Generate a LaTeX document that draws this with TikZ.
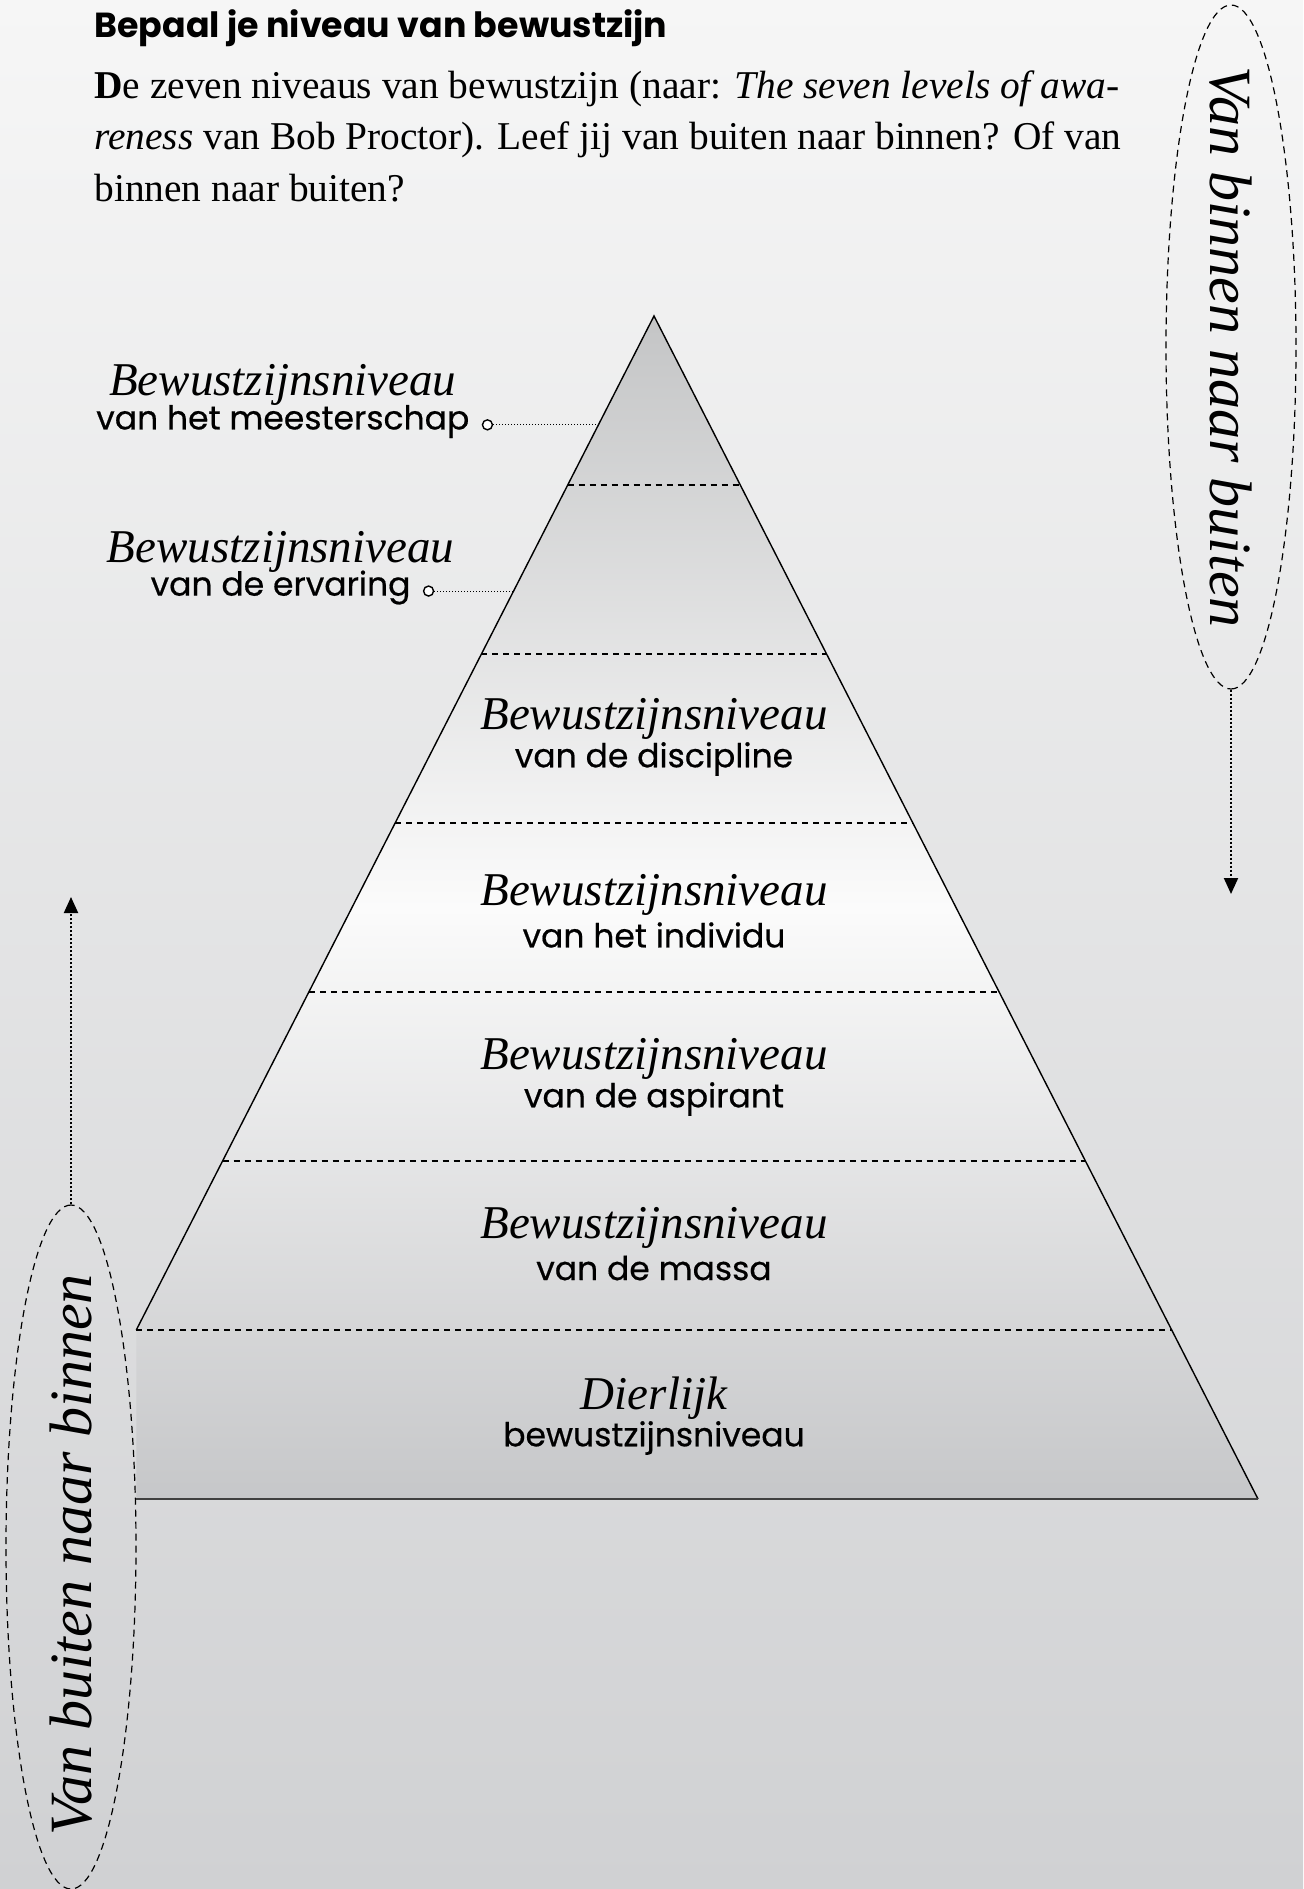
\documentclass[tikz,border=0pt]{standalone}
\usepackage{fontspec}
\setmainfont{Liberation Serif}
\newfontfamily\labelsans{Poppins}[FakeBold=0.5]
\newfontfamily\titlesans{Poppins}
\usetikzlibrary{positioning,calc,shapes.geometric,arrows.meta}

\definecolor{bgtop}{HTML}{F6F6F6}
\definecolor{bgbottom}{HTML}{D0D1D3}
\definecolor{pyrtop}{HTML}{C4C5C6}
\definecolor{pyrmid}{HTML}{FBFBFB}
\definecolor{pyrbottom}{HTML}{C6C7C9}

\tikzset{
  seritlbl/.style={font=\fontsize{23.5}{25}\selectfont\itshape, inner sep=0pt},
  sanslbl/.style={font=\labelsans\fontsize{16.5}{18}\selectfont, inner sep=0pt},
  levelline/.style={dash pattern=on 3pt off 2.5pt, line width=0.6pt},
  pindot/.style={circle, draw, line width=0.7pt, inner sep=0pt, minimum size=5pt, fill=white},
  pinline/.style={densely dotted, line width=0.5pt},
  flow/.style={ellipse, draw, dash pattern=on 3.5pt off 2.5pt, line width=0.6pt,
    minimum width=342pt, minimum height=65pt, inner sep=0pt},
  flowtext/.style={font=\fontsize{30}{32}\selectfont\itshape, inner sep=0pt},
  flowarrow/.style={densely dotted, line width=1pt, -{Triangle[width=7pt,length=8pt]}}
}

\begin{document}
\begin{tikzpicture}[x=0.5pt,y=-0.5pt]

\useasboundingbox (0,0) rectangle (1303,1889);
\fill[top color=bgtop, bottom color=bgbottom] (0,0) rectangle (1303,1889);

\coordinate (apex) at (654,316);
\coordinate (bl) at (50,1499);
\coordinate (br) at (1258,1499);
\coordinate (cut) at ($(apex)!6/7!(bl)$);
\coordinate (cutbase) at (cut |- bl);

\shade[top color=pyrtop, bottom color=pyrbottom, middle color=pyrmid]
(apex) -- (cut) -- (cutbase) -- (br) -- cycle;
\draw[line width=0.7pt] (cut) -- (apex) -- (br);
\draw[line width=1.1pt, draw=black!75] (cutbase) -- (br);
\foreach \k in {1,...,6}
  \draw[levelline] ($(apex)!\k/7!(bl)$) -- ($(apex)!\k/7!(br)$);

\coordinate (e0) at ($(apex)!0.092!(bl)$);
\coordinate (e1) at ($(apex)!0.2325!(bl)$);
\node[pindot] (d0) at ($(e0)+(-111,0)$) {};
\node[pindot] (d1) at ($(e1)+(-85,0)$) {};
\draw[pinline] (d0) -- (e0);
\draw[pinline] (d1) -- (e1);

\node[sanslbl, anchor=mid east] (meesterschap) at ($(d0.west)+(-12,0)$) {van het meesterschap};
\node[seritlbl] (meesterschaptop) at ($(meesterschap.mid)+(0,-40)$) {Bewustzijnsniveau};
\node[sanslbl, anchor=mid east] (ervaring) at ($(d1.west)+(-12,0)$) {van de ervaring};
\node[seritlbl] (ervaringtop) at ($(ervaring.mid)+(0,-39)$) {Bewustzijnsniveau};

\node[seritlbl] (disciplinetop) at (654,719) {Bewustzijnsniveau};
\node[sanslbl] (discipline) at ($(disciplinetop)+(0,40)$) {van de discipline};
\node[seritlbl] (individutop) at (654,895) {Bewustzijnsniveau};
\node[sanslbl] (individu) at ($(individutop)+(0,40)$) {van het individu};
\node[seritlbl] (aspiranttop) at (654,1059) {Bewustzijnsniveau};
\node[sanslbl] (aspirant) at ($(aspiranttop)+(0,40)$) {van de aspirant};
\node[seritlbl] (massatop) at (654,1228) {Bewustzijnsniveau};
\node[sanslbl] (massa) at ($(massatop)+(0,40)$) {van de massa};
\node[seritlbl] (dierlijktop) at (654,1398) {Dierlijk};
\node[sanslbl] (dierlijk) at ($(dierlijktop)+(0,40)$) {bewustzijnsniveau};

\node[flow, rotate=-90] (inout) at (1231,347) {};
\node[flowtext, rotate=-90] (inouttext) at (inout) {Van binnen naar buiten};
\coordinate (inoutend) at (1231,894);
\draw[flowarrow] (inout.east) -- (inoutend);

\node[flow, rotate=90] (outin) at (71,1547) {};
\node[flowtext, rotate=90] (outintext) at ($(outin)+(0,8)$) {Van buiten naar binnen};
\coordinate (outinend) at (71,897);
\draw[flowarrow] (outin.east) -- (outinend);

\node[anchor=base west, inner sep=0pt, font=\titlesans\bfseries\fontsize{17.4}{19}\selectfont]
(title) at (94,38) {Bepaal je niveau van bewustzijn};
\node[anchor=north west, align=left, inner sep=0pt, font=\fontsize{19.7}{25.8}\selectfont]
(intro) at (94,70) {{\bfseries D}e zeven niveaus van bewustzijn (naar: \textit{The seven levels of awa-}\\
\textit{reness} van Bob Proctor). Leef jij van buiten naar binnen? Of van\\
binnen naar buiten?};

\end{tikzpicture}
\end{document}
